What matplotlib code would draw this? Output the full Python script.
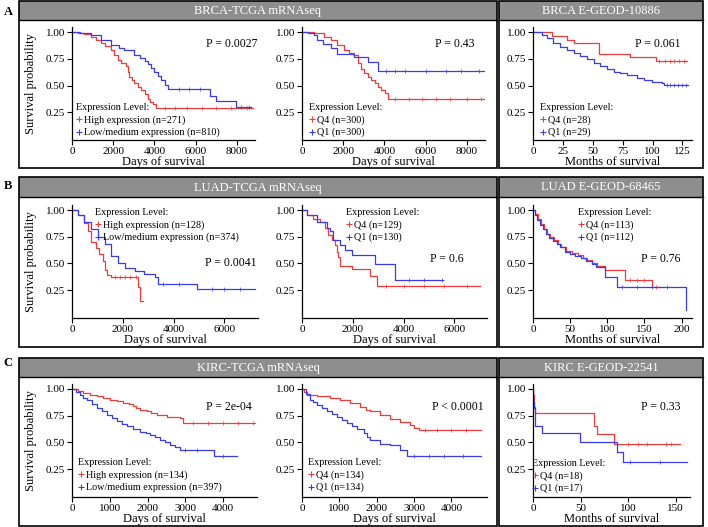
import numpy as np
import matplotlib
matplotlib.use("Agg")
import matplotlib.pyplot as plt
from matplotlib.patches import Rectangle
from matplotlib.lines import Line2D

plt.rcParams['font.family'] = ['Liberation Serif', 'DejaVu Serif']

RED = '#EE3B3B'
BLUE = '#3B3BEE'

# ---------------- data ----------------
# Row A: BRCA
a1_red_t = [0, 300, 600, 900, 1150, 1390, 1600, 1890, 2050, 2210, 2400, 2620, 2700, 2790, 2900, 3030, 3200, 3360, 3530, 3690, 3800, 3930, 4100, 8800]
a1_red_s = [1.0, 0.99, 0.98, 0.96, 0.93, 0.90, 0.87, 0.83, 0.79, 0.74, 0.71, 0.68, 0.63, 0.58, 0.55, 0.52, 0.49, 0.46, 0.42, 0.37, 0.35, 0.33, 0.29, 0.29]
a1_red_c = [4500, 5000, 5600, 6300, 7000, 7700, 8500]
a1_blue_t = [0, 400, 900, 1390, 1890, 2300, 2540, 3030, 3300, 3520, 3700, 3850, 4000, 4180, 4340, 4500, 4670, 6720, 6970, 7950, 8700]
a1_blue_s = [1.0, 0.99, 0.975, 0.93, 0.88, 0.85, 0.83, 0.79, 0.76, 0.73, 0.70, 0.67, 0.63, 0.59, 0.55, 0.51, 0.47, 0.40, 0.36, 0.30, 0.30]
a1_blue_c = [5200, 5700, 6200, 8200, 8600]

a2_red_t = [0, 570, 1070, 1390, 1720, 2050, 2300, 2540, 2700, 2870, 3030, 3200, 3360, 3530, 3690, 3850, 4020, 4180, 8850]
a2_red_s = [1.0, 0.99, 0.96, 0.93, 0.88, 0.83, 0.81, 0.79, 0.71, 0.66, 0.62, 0.58, 0.55, 0.52, 0.49, 0.46, 0.43, 0.375, 0.375]
a2_red_c = [4500, 5200, 5800, 6500, 7200, 8000, 8700]
a2_blue_t = [0, 300, 570, 740, 1000, 1390, 1720, 2540, 3200, 3690, 8850]
a2_blue_s = [1.0, 0.99, 0.975, 0.93, 0.89, 0.85, 0.80, 0.77, 0.72, 0.64, 0.64]
a2_blue_c = [4100, 4500, 5000, 6000, 7000, 7700, 8600]

a3_red_t = [0, 15.7, 28.3, 33.9, 54.9, 81.5, 102.5, 129]
a3_red_s = [1.0, 0.97, 0.93, 0.90, 0.80, 0.77, 0.73, 0.73]
a3_red_c = [105, 110, 115, 118, 122, 126]
a3_blue_t = [0, 7.3, 11.5, 17, 22.7, 28.3, 33.9, 39.5, 45, 50.7, 56.3, 62, 67.5, 73, 78.7, 87, 92.7, 99.7, 108, 109.5, 129.7]
a3_blue_s = [1.0, 0.975, 0.944, 0.903, 0.866, 0.834, 0.803, 0.778, 0.747, 0.709, 0.684, 0.653, 0.631, 0.616, 0.60, 0.569, 0.553, 0.538, 0.52, 0.506, 0.506]
a3_blue_c = [112, 115, 118, 121, 125, 128]

# Row B: LUAD
b1_red_t = [0, 220, 490, 620, 750, 950, 1080, 1210, 1280, 1380, 1540, 2590, 2660, 2790]
b1_red_s = [1.0, 0.95, 0.875, 0.80, 0.70, 0.64, 0.59, 0.52, 0.44, 0.39, 0.37, 0.28, 0.15, 0.15]
b1_red_c = [1700, 1900, 2100, 2300, 2500]
b1_blue_t = [0, 220, 490, 750, 1010, 1280, 1540, 1800, 2070, 2460, 2850, 3250, 3380, 4900, 7200]
b1_blue_s = [1.0, 0.95, 0.89, 0.82, 0.75, 0.68, 0.57, 0.50, 0.46, 0.43, 0.40, 0.37, 0.31, 0.26, 0.26]
b1_blue_c = [3600, 4200, 5500, 6000, 6600]

b2_red_t = [0, 184, 446, 708, 905, 1036, 1168, 1300, 1364, 1430, 1496, 1955, 2676, 2940, 7000]
b2_red_s = [1.0, 0.95, 0.92, 0.89, 0.83, 0.77, 0.72, 0.67, 0.61, 0.56, 0.48, 0.45, 0.38, 0.29, 0.29]
b2_red_c = [3300, 4000, 4800, 5600, 6500]
b2_blue_t = [0, 184, 577, 970, 1100, 1233, 1496, 1692, 1955, 2873, 3660, 5560]
b2_blue_s = [1.0, 0.95, 0.89, 0.83, 0.80, 0.72, 0.67, 0.625, 0.58, 0.49, 0.34, 0.34]
b2_blue_c = [4200, 4800, 5500]

b3_red_t = [0, 3, 7, 11, 15, 19, 23, 28, 33, 38, 45, 52, 60, 67, 73, 80, 86, 97, 124, 160, 171]
b3_red_s = [1.0, 0.96, 0.92, 0.87, 0.82, 0.78, 0.75, 0.72, 0.68, 0.65, 0.62, 0.60, 0.58, 0.55, 0.53, 0.50, 0.48, 0.44, 0.34, 0.28, 0.28]
b3_red_c = [130, 140, 150, 165]
b3_blue_t = [0, 3, 6, 10, 14, 18, 22, 27, 32, 37, 43, 50, 57, 64, 72, 79, 85, 97, 113, 206, 206.5]
b3_blue_s = [1.0, 0.95, 0.91, 0.86, 0.82, 0.78, 0.74, 0.71, 0.68, 0.65, 0.61, 0.59, 0.57, 0.55, 0.52, 0.49, 0.47, 0.375, 0.275, 0.06, 0.06]
b3_blue_c = [120, 140, 160, 180]

# Row C: KIRC
c1_red_t = [0, 150, 300, 480, 654, 830, 1008, 1180, 1361, 1500, 1626, 1700, 1803, 1980, 2100, 2245, 2510, 2864, 2950, 4850]
c1_red_s = [1.0, 0.98, 0.96, 0.945, 0.93, 0.915, 0.90, 0.885, 0.87, 0.855, 0.845, 0.82, 0.80, 0.79, 0.775, 0.76, 0.74, 0.73, 0.68, 0.68]
c1_red_c = [3200, 3600, 4000, 4400, 4800]
c1_blue_t = [0, 100, 212, 300, 389, 520, 654, 790, 919, 1050, 1185, 1320, 1450, 1620, 1803, 1950, 2069, 2200, 2334, 2470, 2600, 2730, 2864, 3748, 4367]
c1_blue_s = [1.0, 0.975, 0.945, 0.92, 0.90, 0.86, 0.82, 0.79, 0.76, 0.73, 0.70, 0.675, 0.65, 0.625, 0.60, 0.585, 0.57, 0.55, 0.525, 0.50, 0.48, 0.455, 0.43, 0.37, 0.37]
c1_blue_c = [3000, 3300, 4000]

c2_red_t = [0, 60, 125, 394, 753, 1021, 1290, 1559, 1700, 1828, 2097, 2365, 2634, 2903, 3000, 3127, 4800]
c2_red_s = [1.0, 0.97, 0.94, 0.93, 0.92, 0.90, 0.87, 0.835, 0.80, 0.79, 0.76, 0.72, 0.695, 0.665, 0.64, 0.62, 0.62]
c2_red_c = [3300, 3600, 4000, 4400]
c2_blue_t = [0, 100, 215, 300, 394, 530, 663, 800, 932, 1060, 1200, 1330, 1470, 1649, 1750, 1828, 2097, 2365, 2634, 2813, 4800]
c2_blue_s = [1.0, 0.95, 0.90, 0.875, 0.85, 0.82, 0.79, 0.765, 0.74, 0.71, 0.68, 0.655, 0.63, 0.59, 0.55, 0.525, 0.49, 0.48, 0.43, 0.37, 0.37]
c2_blue_c = [3000, 3400, 3800, 4300]

c3_red_t = [0, 0.5, 1, 2, 64, 67, 85, 155]
c3_red_s = [1.0, 0.94, 0.83, 0.78, 0.65, 0.58, 0.49, 0.49]
c3_red_c = [100, 110, 120, 140, 145]
c3_blue_t = [0, 0.5, 1, 2, 9, 49, 88, 95, 162]
c3_blue_s = [1.0, 0.88, 0.82, 0.65, 0.59, 0.50, 0.41, 0.32, 0.32]
c3_blue_c = [102, 133]

row_labels = ['A', 'B', 'C']
tcga_titles = ['BRCA-TCGA mRNAseq', 'LUAD-TCGA mRNAseq', 'KIRC-TCGA mRNAseq']
geo_titles = ['BRCA E-GEOD-10886', 'LUAD E-GEOD-68465', 'KIRC E-GEOD-22541']

p_values = [['P = 0.0027', 'P = 0.43', 'P = 0.061'],
            ['P = 0.0041', 'P = 0.6', 'P = 0.76'],
            ['P = 2e-04', 'P < 0.0001', 'P = 0.33']]

legend_labels = [
    [['High expression (n=271)', 'Low/medium expression (n=810)'], ['Q4 (n=300)', 'Q1 (n=300)'], ['Q4 (n=28)', 'Q1 (n=29)']],
    [['High expression (n=128)', 'Low/medium expression (n=374)'], ['Q4 (n=129)', 'Q1 (n=130)'], ['Q4 (n=113)', 'Q1 (n=112)']],
    [['High expression (n=134)', 'Low/medium expression (n=397)'], ['Q4 (n=134)', 'Q1 (n=134)'], ['Q4 (n=18)', 'Q1 (n=17)']],
]

xticks = [
    [[0, 2000, 4000, 6000, 8000], [0, 2000, 4000, 6000, 8000], [0, 25, 50, 75, 100, 125]],
    [[0, 2000, 4000, 6000], [0, 2000, 4000, 6000], [0, 50, 100, 150, 200]],
    [[0, 1000, 2000, 3000, 4000], [0, 1000, 2000, 3000, 4000], [0, 50, 100, 150]],
]
yticks = [0.25, 0.50, 0.75, 1.00]
ytick_labels = ['0.25', '0.50', '0.75', '1.00']

curves = [
    [((a1_red_t, a1_red_s, a1_red_c), (a1_blue_t, a1_blue_s, a1_blue_c)),
     ((a2_red_t, a2_red_s, a2_red_c), (a2_blue_t, a2_blue_s, a2_blue_c)),
     ((a3_red_t, a3_red_s, a3_red_c), (a3_blue_t, a3_blue_s, a3_blue_c))],
    [((b1_red_t, b1_red_s, b1_red_c), (b1_blue_t, b1_blue_s, b1_blue_c)),
     ((b2_red_t, b2_red_s, b2_red_c), (b2_blue_t, b2_blue_s, b2_blue_c)),
     ((b3_red_t, b3_red_s, b3_red_c), (b3_blue_t, b3_blue_s, b3_blue_c))],
    [((c1_red_t, c1_red_s, c1_red_c), (c1_blue_t, c1_blue_s, c1_blue_c)),
     ((c2_red_t, c2_red_s, c2_red_c), (c2_blue_t, c2_blue_s, c2_blue_c)),
     ((c3_red_t, c3_red_s, c3_red_c), (c3_blue_t, c3_blue_s, c3_blue_c))],
]

# ---------------- layout (pixels) ----------------
W, H = 708, 527
fig = plt.figure(figsize=(W / 100, H / 100), dpi=100)

bg = fig.add_axes([0, 0, 1, 1])
bg.set_xlim(0, W)
bg.set_ylim(H, 0)
bg.axis('off')

row_box = [(1, 20, 168), (177, 197, 347), (358, 377, 526)]   # top, header bottom, bottom
left_box = (19, 497)
right_box = (499, 703)
row_axes_y = [(27, 140), (204.7, 317.8), (383.6, 497.1)]
col_x = [
    [(72, 255, 8880), (302, 485, 8880), (533, 692, 133)],
    [(72, 258, 7320), (302, 487, 7280), (533, 692, 214)],
    [(72, 257, 4900), (302, 487, 4950), (533, 690, 165)],
]
p_pos = [[(232, 44), (455, 44), (658, 44)],
         [(231, 263), (447, 259), (661, 259)],
         [(229, 407), (458, 407), (661, 407)]]
leg_pos = [[(76, 103), (309, 103), (540, 103)],
           [(95, 208), (346, 208), (578, 208)],
           [(78, 458), (308, 458), (532, 459)]]
xlabel_txt = ['Days of survival', 'Days of survival', 'Months of survival']
label_y = [12, 186, 363]

HEADER = '#8E8E8E'

for r in range(3):
    top, hb, bot = row_box[r]
    for (x0, x1), title in ((left_box, tcga_titles[r]), (right_box, geo_titles[r])):
        bg.add_patch(Rectangle((x0, top), x1 - x0, hb - top, facecolor=HEADER, edgecolor='none', zorder=1))
        bg.add_patch(Rectangle((x0, top), x1 - x0, bot - top, facecolor='none', edgecolor='black', lw=1.2, zorder=2))
        bg.plot([x0, x1], [hb, hb], color='black', lw=1.0, zorder=2)
        bg.text((x0 + x1) / 2, (top + hb) / 2 + 0.5, title, color='white', ha='center', va='center', fontsize=9)
    bg.text(8, label_y[r], row_labels[r], ha='center', va='center', fontsize=9, fontweight='bold')

    yt, yb = row_axes_y[r]
    for c in range(3):
        xl, xr, xmax = col_x[r][c]
        ax = fig.add_axes([xl / W, 1 - yb / H, (xr - xl) / W, (yb - yt) / H])
        ax.set_facecolor('none')
        for (t, s, cens), col in zip(curves[r][c], (RED, BLUE)):
            ax.step(t, s, where='post', color=col, lw=0.9)
            t_arr = np.asarray(t, float)
            s_arr = np.asarray(s, float)
            idx = np.searchsorted(t_arr, np.asarray(cens, float), side='right') - 1
            ax.plot(cens, s_arr[idx], linestyle='none', marker='+', ms=2.2, mew=0.5, color=col)
        ax.set_xlim(0, xmax)
        ax.set_ylim(-0.01, 1.05)
        ax.set_yticks(yticks)
        ax.set_yticklabels(ytick_labels)
        ax.set_xticks(xticks[r][c])
        for sp in ('top', 'right'):
            ax.spines[sp].set_visible(False)
        for sp in ('left', 'bottom'):
            ax.spines[sp].set_linewidth(0.9)
        ax.tick_params(axis='both', direction='out', length=3.5, width=0.8, labelsize=8, pad=1.5, colors='black')
        ax.set_xlabel(xlabel_txt[c], fontsize=9, labelpad=0)
        if c == 0:
            ax.set_ylabel('Survival probability', fontsize=9, labelpad=6)
        px, py = p_pos[r][c]
        bg.text(px, py, p_values[r][c], ha='center', va='center', fontsize=8.5, zorder=5)
        handles = [Line2D([], [], color=RED, marker='+', ms=4, mew=0.8, linestyle='none'),
                   Line2D([], [], color=BLUE, marker='+', ms=4, mew=0.8, linestyle='none')]
        lx, ly = leg_pos[r][c]
        ax.legend(handles, legend_labels[r][c], title='Expression Level:', loc='upper left',
                  bbox_to_anchor=(lx / W, 1 - ly / H), bbox_transform=fig.transFigure,
                  frameon=False, fontsize=7.3, title_fontsize=7.3, handlelength=0.5, handletextpad=0.3,
                  labelspacing=0.3, borderpad=0, borderaxespad=0, alignment='left')

fig.savefig('out.png', dpi=100)
